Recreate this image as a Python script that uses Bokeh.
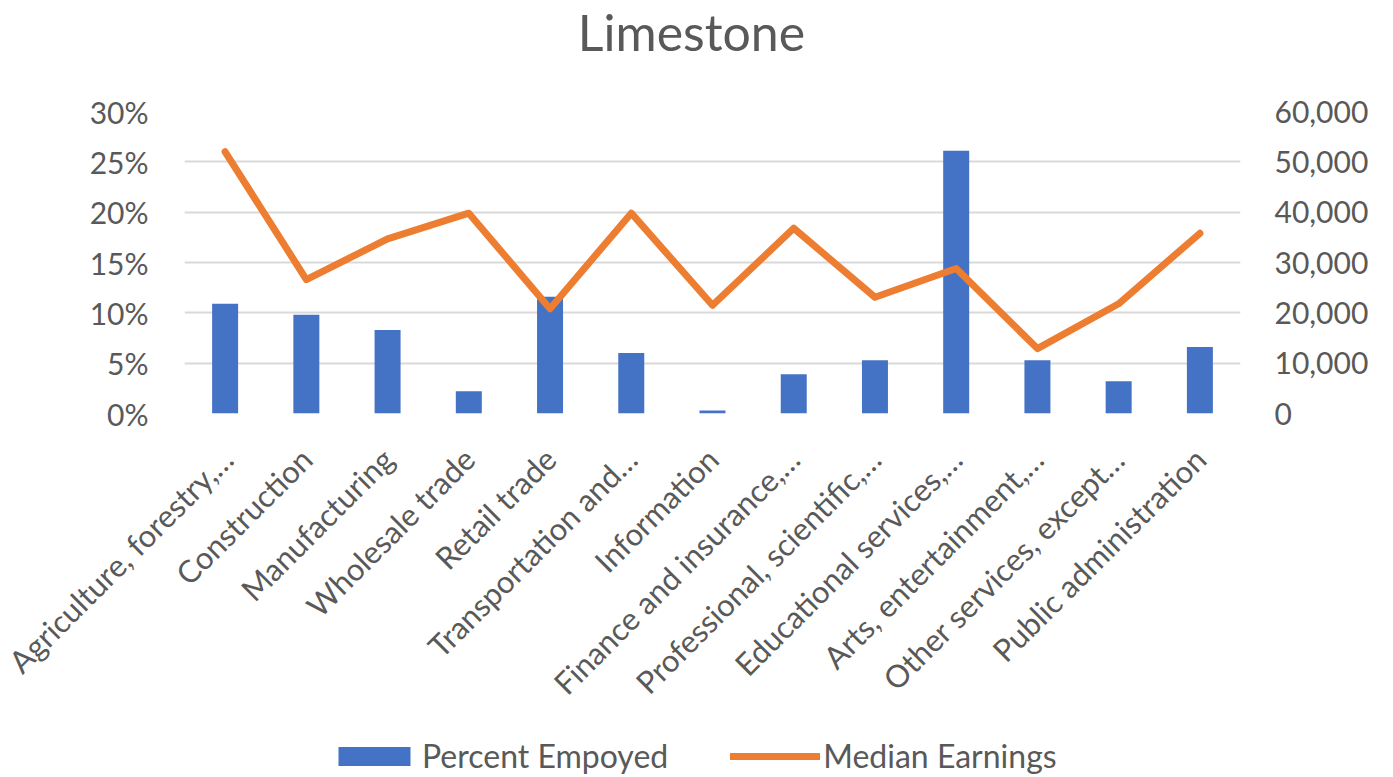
import math
from bokeh.plotting import figure
from bokeh.layouts import column
from bokeh.models import (ColumnDataSource, FactorRange, Range1d, LinearAxis,
                          NumeralTickFormatter, Legend, LegendItem, FixedTicker, Label)
from bokeh.embed import file_html
from bokeh.resources import INLINE

categories = [
    "Agriculture, forestry,\u2026", "Construction", "Manufacturing",
    "Wholesale trade", "Retail trade", "Transportation and\u2026",
    "Information", "Finance and insurance,\u2026", "Professional, scientific,\u2026",
    "Educational services,\u2026", "Arts, entertainment,\u2026",
    "Other services, except\u2026", "Public administration",
]
percent_employed = [0.109, 0.098, 0.083, 0.022, 0.116, 0.060, 0.003,
                    0.039, 0.053, 0.261, 0.053, 0.032, 0.066]
median_earnings = [52000, 26600, 34700, 39800, 20800, 39800, 21500,
                   36800, 23100, 28800, 12900, 21800, 35800]
left_ticks = [0, 0.05, 0.10, 0.15, 0.20, 0.25, 0.30]
right_ticks = [0, 10000, 20000, 30000, 40000, 50000, 60000]
title_text = "Limestone"
series_names = ["Percent Empoyed", "Median Earnings"]

FONT = "Lato"
GREY = "#595959"
BLUE = "#4472C4"
ORANGE = "#ED7D31"
W = 1393
H_TITLE, H_MAIN, H_LEG = 80, 657, 40
BL, BR = 184, 153   # borders -> plot frame spans x 184..1240

src = ColumnDataSource(dict(cat=categories, pct=percent_employed, earn=median_earnings))


def strip(height, x_range, y_range):
    f = figure(width=W, height=height, x_range=x_range, y_range=y_range,
               output_backend="svg", toolbar_location=None,
               x_axis_type=None, y_axis_type=None,
               min_border_left=BL, min_border_right=BR,
               min_border_top=0, min_border_bottom=0)
    f.outline_line_color = None
    f.grid.visible = False
    return f


# ---- title strip (data units equal page pixels)
tf = strip(H_TITLE, Range1d(BL, W - BR), Range1d(0, H_TITLE))
tf.add_layout(Label(x=691, y=H_TITLE - 31, text=title_text, text_align="center",
                    text_baseline="middle", text_font=FONT,
                    text_font_size="50px", text_color=GREY))

# ---- main chart
p = figure(width=W, height=H_MAIN, x_range=FactorRange(*categories),
           y_range=Range1d(0, 0.30), output_backend="svg", toolbar_location=None,
           min_border_left=BL, min_border_right=BR, min_border_top=111 - H_TITLE,
           min_border_bottom=H_TITLE + H_MAIN - 413)
p.extra_y_ranges = {"earn": Range1d(0, 60000)}
p.outline_line_color = None

bars = p.vbar(x="cat", top="pct", width=0.32, source=src, fill_color=BLUE,
              line_color=None)
line = p.line(x="cat", y="earn", source=src, y_range_name="earn",
              line_color=ORANGE, line_width=7, line_join="round", line_cap="round")

p.xaxis.major_label_orientation = math.pi / 4
p.xaxis.major_label_text_font = FONT
p.xaxis.major_label_text_font_size = "31px"
p.xaxis.major_label_text_color = GREY
p.xaxis.axis_line_color = None
p.xaxis.major_tick_line_color = None
p.xaxis.minor_tick_line_color = None
p.xaxis.major_label_standoff = 34

p.yaxis.ticker = FixedTicker(ticks=left_ticks)
p.yaxis.formatter = NumeralTickFormatter(format="0%")
p.yaxis.major_label_text_font = FONT
p.yaxis.major_label_text_font_size = "30px"
p.yaxis.major_label_text_color = GREY
p.yaxis.axis_line_color = None
p.yaxis.major_tick_line_color = None
p.yaxis.minor_tick_line_color = None
p.yaxis.major_label_standoff = 30

ry = LinearAxis(y_range_name="earn", ticker=FixedTicker(ticks=right_ticks),
                formatter=NumeralTickFormatter(format="0,0"))
ry.major_label_text_font = FONT
ry.major_label_text_font_size = "30px"
ry.major_label_text_color = GREY
ry.axis_line_color = None
ry.major_tick_line_color = None
ry.minor_tick_line_color = None
ry.major_label_standoff = 28
p.add_layout(ry, "right")

p.xgrid.grid_line_color = None
p.ygrid.grid_line_color = "#D9D9D9"
p.ygrid.grid_line_width = 2
p.ygrid.ticker = FixedTicker(ticks=left_ticks)

# ---- legend strip: same series placed far outside its view, only legend shows
lf = strip(H_LEG, FactorRange(*categories), Range1d(100000, 100001))
lb = lf.vbar(x="cat", top="pct", width=0.32, source=src, fill_color=BLUE,
             line_color=None)
ll = lf.line(x="cat", y="earn", source=src, line_color=ORANGE, line_width=7,
             line_cap="round")
legend = Legend(items=[LegendItem(label=series_names[0], renderers=[lb]),
                       LegendItem(label=series_names[1], renderers=[ll])],
                orientation="horizontal", location=(329 - BL, 2),
                glyph_width=90, glyph_height=24, label_standoff=3, spacing=62,
                padding=0, margin=0, border_line_color=None,
                background_fill_alpha=0,
                label_text_font=FONT, label_text_font_size="32px",
                label_text_color=GREY)
lf.add_layout(legend, "center")

layout = column(tf, p, lf, spacing=0)
open("out.html", "w").write(file_html(layout, INLINE))
